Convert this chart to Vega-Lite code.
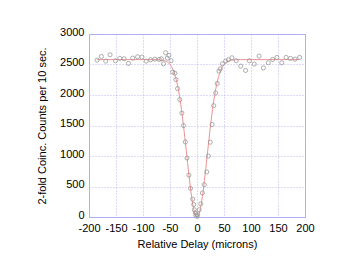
{
  "$schema": "https://vega.github.io/schema/vega-lite/v6.json",
  "width": 216,
  "height": 183,
  "autosize": {"type": "none"},
  "padding": {"left": 89, "top": 34, "right": 44, "bottom": 50},
  "background": "white",
  "config": {
    "view": {"stroke": "#a8a8f0", "strokeWidth": 1},
    "font": "Liberation Sans",
    "axis": {
      "grid": true,
      "gridColor": "#b8b8f4",
      "gridDash": [1, 2],
      "gridWidth": 1,
      "gridOpacity": 1,
      "domain": false,
      "ticks": false,
      "labelFont": "Liberation Sans",
      "labelFontSize": 11,
      "labelColor": "#000000",
      "titleFont": "Liberation Sans",
      "titleFontSize": 11,
      "titleFontWeight": "normal",
      "titleColor": "#000000"
    }
  },
  "datasets": {
    "pts": [
      {"x": -185, "y": 2572}, {"x": -177, "y": 2632}, {"x": -169, "y": 2555}, {"x": -161, "y": 2660},
      {"x": -151, "y": 2561}, {"x": -143, "y": 2600}, {"x": -135, "y": 2594}, {"x": -127, "y": 2517},
      {"x": -119, "y": 2605}, {"x": -110, "y": 2627}, {"x": -102, "y": 2621}, {"x": -94, "y": 2555},
      {"x": -86, "y": 2577}, {"x": -78, "y": 2588}, {"x": -70, "y": 2583}, {"x": -66, "y": 2594},
      {"x": -62, "y": 2511}, {"x": -58, "y": 2693}, {"x": -55, "y": 2605}, {"x": -52, "y": 2649},
      {"x": -48, "y": 2561}, {"x": -45, "y": 2374}, {"x": -41, "y": 2358}, {"x": -39, "y": 2253},
      {"x": -36, "y": 2105}, {"x": -32, "y": 1924}, {"x": -28, "y": 1704}, {"x": -25, "y": 1498},
      {"x": -21.5, "y": 1231}, {"x": -18.5, "y": 967}, {"x": -15, "y": 686}, {"x": -12, "y": 470},
      {"x": -8, "y": 292}, {"x": -6, "y": 205}, {"x": -5, "y": 119}, {"x": -3, "y": 65},
      {"x": -2, "y": 32}, {"x": 0, "y": 11}, {"x": 1, "y": 38}, {"x": 4, "y": 119},
      {"x": 7, "y": 216}, {"x": 10, "y": 394}, {"x": 13.5, "y": 529}, {"x": 18, "y": 740},
      {"x": 21, "y": 999}, {"x": 24.6, "y": 1226}, {"x": 28, "y": 1517}, {"x": 31, "y": 1825},
      {"x": 34.5, "y": 2034}, {"x": 37.5, "y": 2188}, {"x": 40.6, "y": 2391}, {"x": 43, "y": 2429},
      {"x": 47, "y": 2511}, {"x": 53, "y": 2555}, {"x": 58, "y": 2577}, {"x": 64.6, "y": 2610},
      {"x": 72.6, "y": 2561}, {"x": 81, "y": 2473}, {"x": 90, "y": 2402}, {"x": 97, "y": 2561},
      {"x": 106, "y": 2506}, {"x": 115, "y": 2638}, {"x": 123, "y": 2445}, {"x": 132, "y": 2528},
      {"x": 140, "y": 2583}, {"x": 148, "y": 2616}, {"x": 157, "y": 2528}, {"x": 165, "y": 2616},
      {"x": 173, "y": 2600}, {"x": 181.5, "y": 2588}, {"x": 190, "y": 2616}
    ],
    "fit": [
      {"x": -185, "y": 2580}, {"x": -80, "y": 2580}, {"x": -70, "y": 2577}, {"x": -60, "y": 2563},
      {"x": -50, "y": 2500}, {"x": -45, "y": 2425}, {"x": -40, "y": 2301}, {"x": -35, "y": 2110},
      {"x": -30, "y": 1842}, {"x": -25, "y": 1497}, {"x": -20, "y": 1100}, {"x": -15, "y": 692},
      {"x": -10, "y": 335}, {"x": -5, "y": 88}, {"x": 0, "y": 0}, {"x": 5, "y": 88},
      {"x": 10, "y": 335}, {"x": 15, "y": 692}, {"x": 20, "y": 1100}, {"x": 25, "y": 1497},
      {"x": 30, "y": 1842}, {"x": 35, "y": 2110}, {"x": 40, "y": 2301}, {"x": 45, "y": 2425},
      {"x": 50, "y": 2500}, {"x": 60, "y": 2563}, {"x": 70, "y": 2577}, {"x": 80, "y": 2580},
      {"x": 190, "y": 2580}
    ]
  },
  "encoding": {
    "x": {
      "field": "x", "type": "quantitative",
      "scale": {"domain": [-200, 200], "nice": false, "zero": false},
      "axis": {"values": [-200, -150, -100, -50, 0, 50, 100, 150, 200], "labelExpr": "'' + datum.value", "title": "Relative Delay (microns)", "labelPadding": 5, "titlePadding": 5, "labelFlush": false}
    },
    "y": {
      "field": "y", "type": "quantitative",
      "scale": {"domain": [0, 3000], "nice": false},
      "axis": {"values": [0, 500, 1000, 1500, 2000, 2500, 3000], "labelExpr": "'' + datum.value", "title": "2-fold Coinc. Counts per 10 sec.", "labelPadding": 5, "labelOffset": -2, "titlePadding": 12, "labelFlush": false}
    }
  },
  "layer": [
    {
      "data": {"name": "fit"},
      "mark": {"type": "line", "color": "#f09090", "strokeWidth": 1, "interpolate": "monotone"}
    },
    {
      "data": {"name": "pts"},
      "mark": {"type": "point", "shape": "circle", "filled": false, "color": "#999999", "strokeWidth": 0.8, "size": 17, "opacity": 1}
    }
  ]
}
